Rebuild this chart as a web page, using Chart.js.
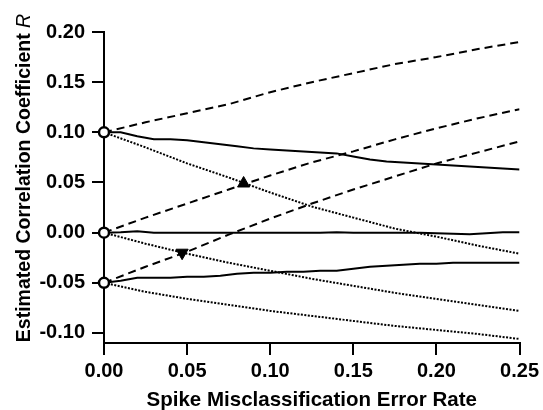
<!DOCTYPE html>
<html>
<head>
<meta charset="utf-8">
<script src="https://cdn.jsdelivr.net/npm/chart.js@4/dist/chart.umd.min.js"></script>
<style>
  html, body { margin: 0; padding: 0; background: #fff; }
  #wrap { width: 543px; height: 410px; }
</style>
</head>
<body>
<div id="wrap"><canvas id="c" width="543" height="410"></canvas></div>
<script>
// ---- data ----
const xSolid = [0,0.01,0.02,0.03,0.04,0.05,0.06,0.07,0.08,0.09,0.10,0.11,0.12,0.13,0.14,0.15,0.16,0.17,0.18,0.19,0.20,0.21,0.22,0.23,0.24,0.25];
const solidHigh = [0.100,0.100,0.096,0.093,0.093,0.092,0.090,0.088,0.086,0.084,0.083,0.082,0.081,0.080,0.079,0.076,0.073,0.071,0.070,0.069,0.068,0.067,0.066,0.065,0.064,0.063];
const solidMid  = [0.000,0.0005,0.0015,0.000,0.000,0.000,0.000,0.000,0.000,0.000,0.000,0.000,0.000,0.000,0.0005,0.000,0.000,0.000,0.000,0.000,-0.0005,-0.001,-0.0015,-0.0005,0.0005,0.0005];
const solidLow  = [-0.050,-0.048,-0.045,-0.045,-0.045,-0.044,-0.044,-0.043,-0.041,-0.040,-0.040,-0.039,-0.039,-0.038,-0.038,-0.036,-0.034,-0.033,-0.032,-0.031,-0.031,-0.030,-0.030,-0.030,-0.030,-0.030];

const xCurve = [0,0.025,0.05,0.075,0.10,0.125,0.15,0.175,0.20,0.225,0.25];
const dashedHigh = [0.100,0.110,0.119,0.128,0.140,0.150,0.159,0.168,0.175,0.183,0.190];
const dashedMid  = [0.000,0.015,0.029,0.043,0.057,0.070,0.081,0.093,0.104,0.114,0.123];
const dashedLow  = [-0.050,-0.034,-0.019,-0.002,0.014,0.029,0.043,0.056,0.069,0.080,0.091];
const dottedHigh = [0.100,0.085,0.069,0.055,0.040,0.026,0.015,0.004,-0.004,-0.013,-0.021];
const dottedMid  = [0.000,-0.011,-0.021,-0.030,-0.038,-0.046,-0.053,-0.060,-0.066,-0.072,-0.078];
const dottedLow  = [-0.050,-0.059,-0.066,-0.072,-0.078,-0.083,-0.088,-0.093,-0.097,-0.101,-0.106];

const startX = [0, 0, 0];
const startY = [0.10, 0.00, -0.05];
const upX = [0.084];   const upY = [0.049];
const downX = [0.047]; const downY = [-0.020];

const xTicks = [0, 0.05, 0.10, 0.15, 0.20, 0.25];
const yTicks = [-0.10, -0.05, 0.00, 0.05, 0.10, 0.15, 0.20];

const xTitle = "Spike Misclassification Error Rate";
const yTitle = "Estimated Correlation Coefficient ";
const yTitleSymbol = "R";

// ---- helpers ----
const pts = (xs, ys) => xs.map((x, i) => ({ x: x, y: ys[i] }));
const FONT = "'Liberation Sans', Arial, Helvetica, sans-serif";

function lineDs(xs, ys, dash, width) {
  return {
    data: pts(xs, ys),
    borderColor: '#000',
    borderWidth: width,
    borderDash: dash,
    pointRadius: 0,
    pointHoverRadius: 0,
    tension: 0,
    fill: false,
    borderCapStyle: 'butt'
  };
}

const titlesPlugin = {
  id: 'titles',
  afterDraw(chart) {
    const ctx = chart.ctx;
    const area = chart.chartArea;
    ctx.save();
    ctx.fillStyle = '#000';
    // x title
    ctx.font = 'bold 20.5px ' + FONT;
    ctx.textAlign = 'center';
    ctx.textBaseline = 'middle';
    ctx.fillText(xTitle, (area.left + area.right) / 2, 400);
    // y title (rotated, italic symbol)
    const fBold = 'bold 19.5px ' + FONT;
    const fItal = 'italic 19.5px ' + FONT;
    ctx.font = fBold;
    const w1 = ctx.measureText(yTitle).width;
    ctx.font = fItal;
    const w2 = ctx.measureText(yTitleSymbol).width;
    const total = w1 + w2;
    ctx.translate(25, 178);
    ctx.rotate(-Math.PI / 2);
    ctx.textAlign = 'left';
    ctx.font = fBold;
    ctx.fillText(yTitle, -total / 2, 0);
    ctx.font = fItal;
    ctx.fillText(yTitleSymbol, -total / 2 + w1, 0);
    ctx.restore();
  }
};

new Chart(document.getElementById('c'), {
  type: 'line',
  data: {
    datasets: [
      {
        data: pts(startX, startY),
        showLine: false,
        clip: false,
        pointStyle: 'circle',
        pointRadius: 5,
        pointBorderWidth: 2.5,
        pointBackgroundColor: '#fff',
        pointBorderColor: '#000',
        pointHoverRadius: 5
      },
      {
        data: pts(upX, upY),
        showLine: false,
        clip: false,
        pointStyle: 'triangle',
        pointRadius: 7,
        pointBorderWidth: 1,
        pointBackgroundColor: '#000',
        pointBorderColor: '#000'
      },
      {
        data: pts(downX, downY),
        showLine: false,
        clip: false,
        pointStyle: 'triangle',
        pointRotation: 180,
        pointRadius: 7,
        pointBorderWidth: 1,
        pointBackgroundColor: '#000',
        pointBorderColor: '#000'
      },
      lineDs(xSolid, solidHigh, [], 2),
      lineDs(xSolid, solidMid, [], 2),
      lineDs(xSolid, solidLow, [], 2),
      lineDs(xCurve, dashedHigh, [8, 5], 2),
      lineDs(xCurve, dashedMid, [8, 5], 2),
      lineDs(xCurve, dashedLow, [8, 5], 2),
      lineDs(xCurve, dottedHigh, [2, 1.5], 2),
      lineDs(xCurve, dottedMid, [2, 1.5], 2),
      lineDs(xCurve, dottedLow, [2, 1.5], 2)
    ]
  },
  options: {
    responsive: false,
    animation: false,
    events: [],
    layout: { padding: { left: 0, right: 21, top: 32, bottom: 0 } },
    plugins: { legend: { display: false }, tooltip: { enabled: false }, title: { display: false } },
    scales: {
      x: {
        type: 'linear',
        min: 0,
        max: 0.25,
        afterBuildTicks: (s) => { s.ticks = xTicks.map(v => ({ value: v })); },
        afterFit: (s) => { s.height = 67; },
        grid: { display: true, drawOnChartArea: false, drawTicks: true, tickLength: 12, color: '#000', lineWidth: 2 },
        border: { display: true, color: '#000', width: 2 },
        ticks: {
          color: '#000',
          padding: 4,
          maxRotation: 0,
          font: { family: FONT, size: 20, weight: 'bold' },
          callback: (v) => v.toFixed(2)
        }
      },
      y: {
        type: 'linear',
        min: -0.11,
        max: 0.20,
        afterBuildTicks: (s) => { s.ticks = yTicks.map(v => ({ value: v })); },
        afterFit: (s) => { s.width = 104; },
        grid: { display: true, drawOnChartArea: false, drawTicks: true, tickLength: 12, color: '#000', lineWidth: 2 },
        border: { display: true, color: '#000', width: 2 },
        ticks: {
          color: '#000',
          padding: 7,
          font: { family: FONT, size: 20, weight: 'bold' },
          callback: (v) => v.toFixed(2)
        }
      }
    }
  },
  plugins: [titlesPlugin]
});
</script>
</body>
</html>
